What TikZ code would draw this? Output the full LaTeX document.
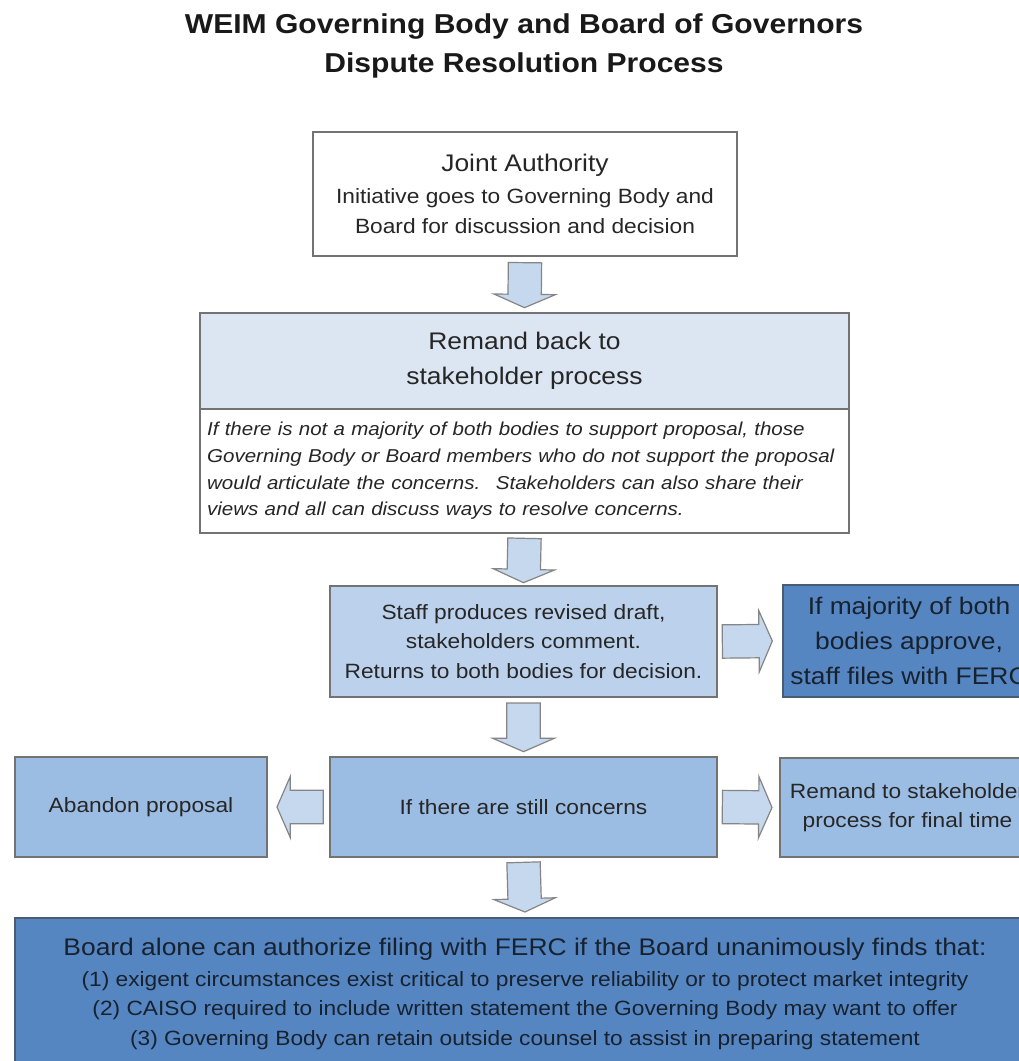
\documentclass[tikz,border=0pt]{standalone}
\usepackage{fontspec}
\setmainfont{Liberation Sans}[FakeStretch=1.1]
\usepackage{tikz}
\usetikzlibrary{positioning,calc}

\definecolor{boxline}{HTML}{737373}
\definecolor{darkline}{HTML}{4A5C74}
\definecolor{headfill}{HTML}{DCE6F2}
\definecolor{palefill}{HTML}{BCD2EC}
\definecolor{midfill}{HTML}{9BBCE3}
\definecolor{darkfill}{HTML}{5586C2}
\definecolor{arrowfill}{HTML}{C5D8EE}
\definecolor{arrowline}{HTML}{858585}
\definecolor{inkdark}{HTML}{262626}
\definecolor{inkdeep}{HTML}{18212E}

\newcommand{\titletext}{\fontsize{20.5pt}{29.3pt}\selectfont\bfseries}
\newcommand{\bigtext}{\fontsize{18pt}{26pt}\selectfont}
\newcommand{\smalltext}{\fontsize{15.5pt}{22pt}\selectfont}
\newcommand{\notetext}{\fontsize{14pt}{20pt}\selectfont\itshape}

% fat outlined arrow from #1 to #2
\newcommand{\blockarrow}[2]{%
  \coordinate (ba-s) at (#1);
  \coordinate (ba-t) at (#2);
  \coordinate (ba-h) at ($(ba-t)!10pt!(ba-s)$);
  \draw[fatarrow] ($(ba-s)!12.5pt!90:(ba-t)$) -- ($(ba-h)!12.5pt!90:(ba-t)$)
    -- ($(ba-h)!23pt!90:(ba-t)$) -- (ba-t) -- ($(ba-h)!23pt!-90:(ba-t)$)
    -- ($(ba-h)!12.5pt!-90:(ba-t)$) -- ($(ba-s)!12.5pt!-90:(ba-t)$) -- cycle;}

\begin{document}
\begin{tikzpicture}[x=0.75pt, y=-0.75pt]
\tikzset{
  flowbox/.style={
    draw=boxline,
    line width=1.3pt,
    align=center,
    text=inkdark,
    inner sep=2pt,
    outer sep=0pt,
    font=\smalltext,
  },
  plainbox/.style={flowbox, fill=white},
  headbox/.style={flowbox, fill=headfill, font=\bigtext},
  palebox/.style={flowbox, fill=palefill},
  midbox/.style={flowbox, fill=midfill},
  darkbox/.style={flowbox, fill=darkfill, draw=darkline, text=inkdeep},
  fatarrow/.style={draw=arrowline, fill=arrowfill, line width=0.9pt, line join=miter}
}
\useasboundingbox (0,0) rectangle (1019,1061);
\fill[white] (0,0) rectangle (1019,1061);
\clip (0,0) rectangle (1019,1061);

\node[align=center, font=\titletext, text=black!90] (title) at (524,46)
  {WEIM Governing Body and Board of Governors\\Dispute Resolution Process};

\node[plainbox, minimum width=318pt, minimum height=93pt] (joint) at (525,194)
  {{\bigtext Joint Authority}\\[2pt]Initiative goes to Governing Body and\\Board for discussion and decision};
\node[headbox, minimum width=486.75pt, minimum height=72pt] (remand) at (524.5,361)
  {Remand back to\\stakeholder process};
\node[plainbox, below=0pt of remand, minimum width=486.75pt, minimum height=93pt,
  align=left, text width=476pt, inner xsep=5.3pt, font=\notetext] (concerns)
  {If there is not a majority of both bodies to support proposal, those\\
   Governing Body or Board members who do not support the proposal\\
   would articulate the concerns.~ Stakeholders can also share their\\
   views and all can discuss ways to resolve concerns.};
\node[palebox, minimum width=290.25pt, minimum height=83.25pt] (revise) at (523.5,641.5)
  {Staff produces revised draft,\\stakeholders comment.\\Returns to both bodies for decision.};
\node[darkbox, font=\bigtext, minimum width=189pt, minimum height=84pt] (approve) at (909,641)
  {If majority of both\\bodies approve,\\staff files with FERC};
\node[midbox, minimum width=290.25pt, minimum height=75pt] (still) at (523.5,807)
  {If there are still concerns};
\node[midbox, minimum width=189pt, minimum height=75pt] (abandon) at (141,807)
  {Abandon proposal};
\node[midbox, minimum width=191.25pt, minimum height=74.25pt] (final) at (907.5,807.5)
  {Remand to stakeholder\\process for final time};
\node[darkbox, minimum width=765pt, minimum height=114pt] (board) at (525,994)
  {{\bigtext Board alone can authorize filing with FERC if the Board unanimously finds that:}\\[1pt]
   (1) exigent circumstances exist critical to preserve reliability or to protect market integrity\\
   (2) CAISO required to include written statement the Governing Body may want to offer\\
   (3) Governing Body can retain outside counsel to assist in preparing statement};

\blockarrow{[yshift=-5pt]joint.south}{[yshift=4pt]remand.north}
\blockarrow{[yshift=-4pt]concerns.south}{[yshift=2.5pt]revise.north}
\blockarrow{[yshift=-4.5pt]revise.south}{[yshift=4pt]still.north}
\blockarrow{[yshift=-4pt]still.south}{[yshift=4.5pt]board.north}
\blockarrow{[xshift=4pt]revise.east}{[xshift=-8pt]approve.west}
\blockarrow{[xshift=4pt]still.east}{[xshift=-6pt]final.west}
\blockarrow{[xshift=-5pt]still.west}{[xshift=7.5pt]abandon.east}
\end{tikzpicture}
\end{document}
